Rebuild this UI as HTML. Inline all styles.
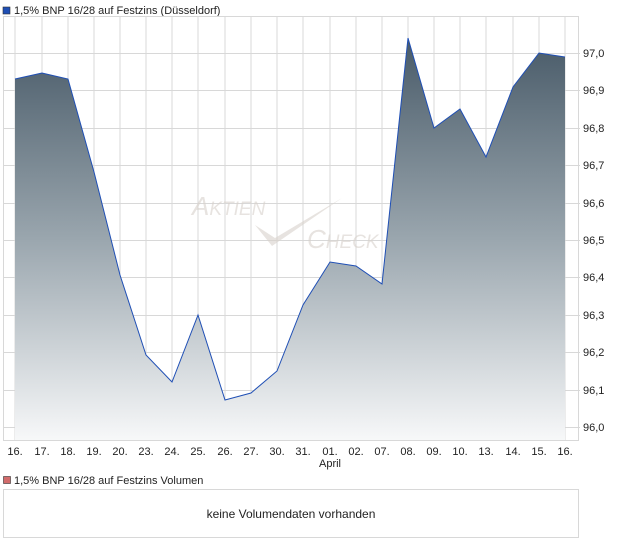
<!DOCTYPE html>
<html><head><meta charset="utf-8"><style>
body{margin:0;background:#fff;width:620px;height:546px;overflow:hidden;font-family:"Liberation Sans",sans-serif;}
</style></head><body>
<svg width="620" height="546" xmlns="http://www.w3.org/2000/svg" font-family="Liberation Sans, sans-serif">
<defs>
<linearGradient id="g" x1="0" y1="38" x2="0" y2="440" gradientUnits="userSpaceOnUse">
<stop offset="0" stop-color="#485a68"/><stop offset="0.5" stop-color="#9aa6ae"/><stop offset="1" stop-color="#f7f8f9"/>
</linearGradient>
</defs>
<rect x="3" y="7" width="7" height="7" fill="#1f4fb5" stroke="#333" stroke-width="0.6"/>
<text x="14" y="14" font-size="11" fill="#222">1,5% BNP 16/28 auf Festzins (Düsseldorf)</text>
<g stroke="#d8d8d8" stroke-width="1">
<rect x="3.5" y="16.5" width="575" height="424" fill="none"/>
<line x1="15" y1="17" x2="15" y2="440"/><line x1="42" y1="17" x2="42" y2="440"/><line x1="68" y1="17" x2="68" y2="440"/><line x1="94" y1="17" x2="94" y2="440"/><line x1="120" y1="17" x2="120" y2="440"/><line x1="146" y1="17" x2="146" y2="440"/><line x1="172" y1="17" x2="172" y2="440"/><line x1="198" y1="17" x2="198" y2="440"/><line x1="225" y1="17" x2="225" y2="440"/><line x1="251" y1="17" x2="251" y2="440"/><line x1="277" y1="17" x2="277" y2="440"/><line x1="303" y1="17" x2="303" y2="440"/><line x1="330" y1="17" x2="330" y2="440"/><line x1="356" y1="17" x2="356" y2="440"/><line x1="382" y1="17" x2="382" y2="440"/><line x1="408" y1="17" x2="408" y2="440"/><line x1="434" y1="17" x2="434" y2="440"/><line x1="460" y1="17" x2="460" y2="440"/><line x1="486" y1="17" x2="486" y2="440"/><line x1="513" y1="17" x2="513" y2="440"/><line x1="539" y1="17" x2="539" y2="440"/><line x1="565" y1="17" x2="565" y2="440"/>
<line x1="3" y1="53.5" x2="580" y2="53.5"/><line x1="3" y1="90.5" x2="580" y2="90.5"/><line x1="3" y1="128.5" x2="580" y2="128.5"/><line x1="3" y1="165.5" x2="580" y2="165.5"/><line x1="3" y1="203.5" x2="580" y2="203.5"/><line x1="3" y1="240.5" x2="580" y2="240.5"/><line x1="3" y1="277.5" x2="580" y2="277.5"/><line x1="3" y1="315.5" x2="580" y2="315.5"/><line x1="3" y1="352.5" x2="580" y2="352.5"/><line x1="3" y1="390.5" x2="580" y2="390.5"/><line x1="3" y1="427.5" x2="580" y2="427.5"/>
</g>
<polygon fill="url(#g)" points="15,440 15,79 42,73 68,79 94,172 120,275 146,355 172,382 198,315 225,400 251,393 277,371 303,305 330,262 356,266 382,284 408,38 434,128 460,109 486,157 513,87 539,53 565,57 565,440"/>
<polyline fill="none" stroke="#1f4fb5" stroke-width="1" points="15,79 42,73 68,79 94,172 120,275 146,355 172,382 198,315 225,400 251,393 277,371 303,305 330,262 356,266 382,284 408,38 434,128 460,109 486,157 513,87 539,53 565,57"/>
<g fill="#d8d2cc" opacity="0.6" font-style="italic" font-size="26">
<text x="192" y="215">A<tspan font-size="19">KTIEN</tspan></text>
<text x="307" y="248">C<tspan font-size="19">HECK</tspan></text>
<path d="M255 225 L272 246 L342 198 L275 238 Z"/>
</g>
<g font-size="11" fill="#222">
<text x="583" y="57">97,0</text><text x="583" y="94">96,9</text><text x="583" y="132">96,8</text><text x="583" y="169">96,7</text><text x="583" y="207">96,6</text><text x="583" y="244">96,5</text><text x="583" y="281">96,4</text><text x="583" y="319">96,3</text><text x="583" y="356">96,2</text><text x="583" y="394">96,1</text><text x="583" y="431">96,0</text>
</g>
<g font-size="11" fill="#222" text-anchor="middle">
<text x="15" y="455">16.</text><text x="42" y="455">17.</text><text x="68" y="455">18.</text><text x="94" y="455">19.</text><text x="120" y="455">20.</text><text x="146" y="455">23.</text><text x="172" y="455">24.</text><text x="198" y="455">25.</text><text x="225" y="455">26.</text><text x="251" y="455">27.</text><text x="277" y="455">30.</text><text x="303" y="455">31.</text><text x="330" y="455">01.</text><text x="356" y="455">02.</text><text x="382" y="455">07.</text><text x="408" y="455">08.</text><text x="434" y="455">09.</text><text x="460" y="455">10.</text><text x="486" y="455">13.</text><text x="513" y="455">14.</text><text x="539" y="455">15.</text><text x="565" y="455">16.</text>
<text x="330" y="467">April</text>
</g>
<rect x="3.5" y="476.5" width="7" height="7" fill="#d26b6b" stroke="#333" stroke-width="0.6"/>
<text x="14" y="484" font-size="11" fill="#222">1,5% BNP 16/28 auf Festzins Volumen</text>
<rect x="3.5" y="489.5" width="575" height="48" fill="none" stroke="#d8d8d8"/>
<text x="291" y="518" font-size="12" fill="#222" text-anchor="middle">keine Volumendaten vorhanden</text>
</svg>
</body></html>
